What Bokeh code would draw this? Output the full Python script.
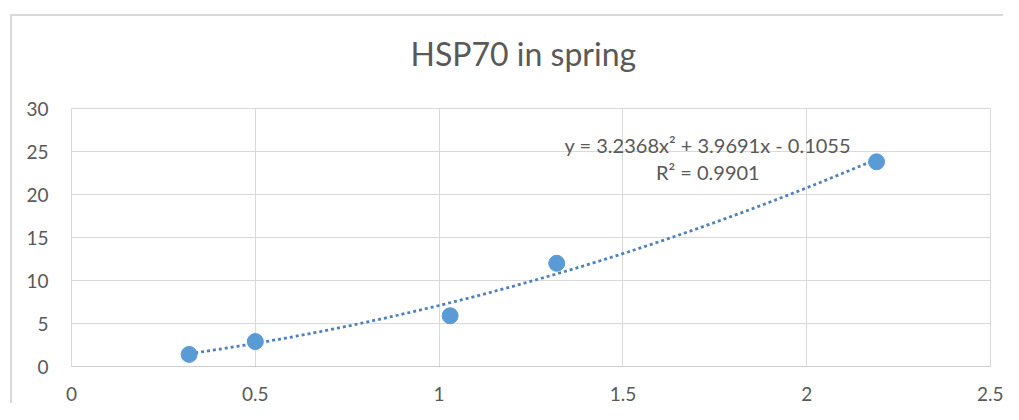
import numpy as np
from bokeh.plotting import figure
from bokeh.models import Label, Range1d, FixedTicker, ColumnDataSource, Title
from bokeh.embed import file_html
from bokeh.resources import INLINE

# data
x_vals = [0.32, 0.50, 1.03, 1.32, 2.19]
y_vals = [1.4, 2.9, 5.9, 12.0, 23.8]
x_ticks = [0, 0.5, 1, 1.5, 2, 2.5]
y_ticks = [0, 5, 10, 15, 20, 25, 30]
trend_coef = [3.2368, 3.9691, -0.1055]  # displayed quadratic trendline
title_text = "HSP70 in spring"
eq_text = "y = 3.2368x\u00b2 + 3.9691x - 0.1055"
r2_text = "R\u00b2 = 0.9901"

FONT = "Lato"
TXT = "#595959"
GRID = "#d9d9d9"

p = figure(
    output_backend="svg", toolbar_location=None,
    frame_width=919, frame_height=258,
    min_border_left=59, min_border_right=13, min_border_top=92, min_border_bottom=0,
    x_range=Range1d(0, 2.5), y_range=Range1d(0, 30),
    background_fill_color="white", border_fill_color="white",
)
p.styles = {"margin-left": "10px", "margin-top": "14px",
            "border-left": "2px solid #d9d9d9", "border-top": "2px solid #d9d9d9"}
p.outline_line_color = GRID

for ax in (p.xaxis[0], p.yaxis[0]):
    ax.major_tick_line_color = None
    ax.minor_tick_line_color = None
    ax.major_label_text_font = FONT
    ax.major_label_text_font_size = "19px"
    ax.major_label_text_color = TXT
p.xaxis.major_label_standoff = 14
p.xaxis.ticker = FixedTicker(ticks=x_ticks)
p.yaxis.ticker = FixedTicker(ticks=y_ticks)
p.xaxis.axis_line_color = "#cfcfcf"
p.yaxis.axis_line_color = None
p.yaxis.major_label_standoff = 17
p.xgrid.ticker = FixedTicker(ticks=x_ticks)
p.ygrid.ticker = FixedTicker(ticks=y_ticks)
p.xgrid.grid_line_color = GRID
p.ygrid.grid_line_color = GRID

# trendline
xs = np.linspace(min(x_vals), max(x_vals), 200)
ys = np.polyval(trend_coef, xs)
p.line(xs, ys, line_color="#4f81bd", line_width=2.8, line_dash="3 3")

src = ColumnDataSource(dict(x=x_vals, y=y_vals))
p.scatter("x", "y", source=src, size=16, fill_color="#5b9bd5", line_color="#5b9bd5")

# spacer between frame and chart title, then the title itself
p.add_layout(Title(text=" ", text_font_size="2px", standoff=32), "above")
p.add_layout(Title(text=title_text, text_font=FONT, text_font_size="32px",
                   text_font_style="normal", text_color=TXT, align="left",
                   offset=339, standoff=0), "above")

p.add_layout(Label(x=1.731, y=25.81, text=eq_text, text_font=FONT,
                   text_font_size="20px", text_color=TXT, text_align="center",
                   text_baseline="alphabetic"))
p.add_layout(Label(x=1.731, y=22.56, text=r2_text, text_font=FONT,
                   text_font_size="20px", text_color=TXT, text_align="center",
                   text_baseline="alphabetic"))

open("out.html", "w").write(file_html(p, INLINE))
